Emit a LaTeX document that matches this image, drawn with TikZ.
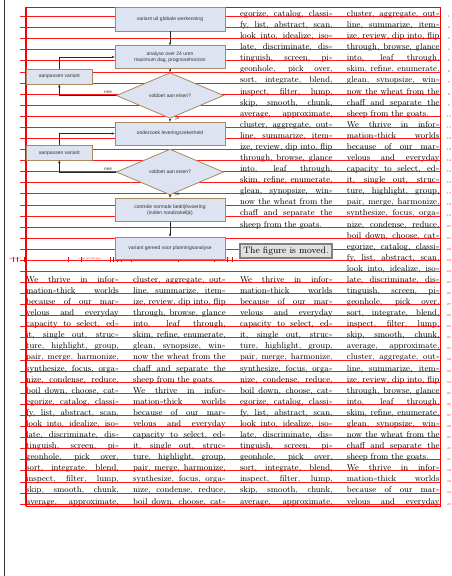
\documentclass[tikz,border=0pt]{standalone}
\usepackage{fontspec}
\usetikzlibrary{shapes.geometric,arrows.meta,positioning}
\newfontfamily\figfont{Liberation Sans}
\definecolor{boxfill}{HTML}{DEE3F1}
\definecolor{boxedge}{HTML}{A8885E}
\definecolor{figtext}{HTML}{333333}
\newcommand\dhy{\scalebox{0.55}[0.85]{=}}
\newcommand\defpl[2]{\expandafter\def\csname PL#1\endcsname{#2}}
\defpl{1}{We thrive in infor\dhy}
\defpl{2}{mation\dhy thick worlds}
\defpl{3}{because of our mar\dhy}
\defpl{4}{velous and everyday}
\defpl{5}{capacity to select, ed\dhy}
\defpl{6}{it, single out, struc\dhy}
\defpl{7}{ture, highlight, group,}
\defpl{8}{pair, merge, harmonize,}
\defpl{9}{synthesize, focus, orga\dhy}
\defpl{10}{nize, condense, reduce,}
\defpl{11}{boil down, choose, cat\dhy}
\defpl{12}{egorize, catalog, classi\dhy}
\defpl{13}{fy, list, abstract, scan,}
\defpl{14}{look into, idealize, iso\dhy}
\defpl{15}{late, discriminate, dis\dhy}
\defpl{16}{tinguish, screen, pi\dhy}
\defpl{17}{geonhole, pick over,}
\defpl{18}{sort, integrate, blend,}
\defpl{19}{inspect, filter, lump,}
\defpl{20}{skip, smooth, chunk,}
\defpl{21}{average, approximate,}
\defpl{22}{cluster, aggregate, out\dhy}
\defpl{23}{line, summarize, item\dhy}
\defpl{24}{ize, review, dip into, flip}
\defpl{25}{through, browse, glance}
\defpl{26}{into, leaf through,}
\defpl{27}{skim, refine, enumerate,}
\defpl{28}{glean, synopsize, win\dhy}
\defpl{29}{now the wheat from the}
\defpl{30}{chaff and separate the}
\defpl{31}{sheep from the goats.}
\newcommand\putline[3]{%
  \pgfmathsetmacro\xx{26+106.9*(#1-1)}%
  \pgfmathsetmacro\yy{16.5+11.08*(#2-1)}%
  \ifnum#3=31
    \node[bodyline] (t#1-#2) at (\xx,\yy) {\makebox[92.6pt][l]{\csname PL#3\endcsname}};%
  \else
    \node[bodyline] (t#1-#2) at (\xx,\yy) {\makebox[92.6pt][s]{\csname PL#3\endcsname}};%
  \fi}
\tikzset{
  bodyline/.style={anchor=base west, inner sep=0pt, font=\fontsize{8.5}{10}\selectfont},
  gridline/.style={draw=red, line width=0.7pt, opacity=0.9},
  lnum/.style={text=red, font=\fontsize{3}{3}\selectfont, inner sep=0pt},
  tick/.style={draw=red, line width=0.5pt},
  ticklab/.style={text=red, font=\fontsize{2.4}{2.4}\selectfont, inner sep=0pt},
  fbox/.style={draw=boxedge, fill=boxfill, line width=0.8pt, minimum width=110pt, inner sep=1pt,
    align=center, text=figtext, font=\figfont\fontsize{5}{6}\selectfont},
  abox/.style={fbox, minimum width=66.7pt},
  dbox/.style={diamond, draw=boxedge, fill=boxfill, line width=0.8pt, minimum width=107.3pt,
    minimum height=37.6pt, inner sep=0pt, text=figtext, font=\figfont\fontsize{5}{6}\selectfont},
  conn/.style={draw=black!85, line width=0.5pt, -{Stealth[length=3pt,width=2.4pt]}},
  flab/.style={text=figtext, inner sep=0pt, font=\figfont\fontsize{4.6}{5}\selectfont},
  movedbox/.style={draw=black!50, line width=1.4pt, fill=black!12, minimum width=92pt,
    minimum height=14pt, inner sep=0pt, font=\fontsize{9.3}{10}\selectfont}
}
\begin{document}
\begin{tikzpicture}[x=1pt,y=-1pt]
\useasboundingbox (0,0) rectangle (452,576);
% page edge
\draw[line width=0.9pt, black!80] (4,0) -- (4,576);
% body text
\foreach \n in {25,...,45} {\pgfmathtruncatemacro\p{\n-24}\putline{1}{\n}{\p}}
\foreach \n in {25,...,45} {\pgfmathtruncatemacro\p{mod(\n-25+21,31)+1}\putline{2}{\n}{\p}}
\foreach \n in {1,...,20} {\pgfmathtruncatemacro\p{\n+11}\putline{3}{\n}{\p}}
\foreach \n in {25,...,45} {\pgfmathtruncatemacro\p{\n-24}\putline{3}{\n}{\p}}
\foreach \n in {1,...,45} {\pgfmathtruncatemacro\p{mod(\n-1+21,31)+1}\putline{4}{\n}{\p}}
% baseline grid
\foreach \n in {1,...,45} {
  \pgfmathsetmacro\yy{16.5+11.08*(\n-1)}
  \draw[gridline] (20,\yy) -- (441,\yy);
  \node[lnum] (ln\n) at (449,\yy) {\n};
}
% text block frame
\draw[red, line width=0.7pt] (26,7.3) rectangle (440,506);
\draw[red, line width=1.1pt] (26,7.3) -- (26,506);
% measuring ticks
\foreach \tx in {13,17,24,68,81,110,113,117,121,131,178,214,227,232}
  \draw[tick] (\tx,256.5) -- (\tx,261.5);
\node[ticklab] (tl1) at (15,258.6) {0pt[0][0]};
\node[ticklab] (tl2) at (90,258.6) {1.0pt[18.2873pt]};
\node[ticklab] (tl3) at (123,258.6) {1.0pt[0][0]};
\node[ticklab] (tl4) at (196,258.6) {1.0pt[1.4658pt]};
\node[ticklab] (tl5) at (224,258.6) {1.0pt[0]};
% flowchart
\node[fbox, minimum height=23.7pt] (b1) at (170,19.2) {variant uit globale werkenning};
\node[fbox, minimum height=22.6pt] (b2) at (170,57) {analyse over 24 uren\\maximum dag, prognosehorizon};
\node[dbox] (d1) at (170,95.5) {voldoet aan eisen?};
\node[abox, minimum height=14.7pt] (a1) at (59.3,76.7) {aanpassen variant};
\node[fbox, minimum height=23pt] (b3) at (170,133.5) {onderzoek leveringszekerheid};
\node[abox, minimum height=14.3pt] (a2) at (59.3,152.8) {aanpassen variant};
\node[dbox] (d2) at (170,172) {voldoet aan eisen?};
\node[fbox, minimum height=23.7pt] (b4) at (170,210) {controle normale bedrijfsvoering\\(indien noodzakelijk)};
\node[fbox, minimum height=22pt] (b5) at (170,248) {variant gereed voor planningsanalyse};
\draw[conn] (b1) -- (b2);
\draw[conn] (b2) -- (d1);
\draw[conn] (d1.west) -| (a1.south);
\draw[conn] (a1.north) |- (b2.west);
\draw[conn] (d1.south) -- (b3.north);
\draw[conn] (a2.north) |- (b3.west);
\draw[conn] (d2.west) -| (a2.south);
\draw[conn] (d2.south) -- (b4.north);
\draw[conn] (b4) -- (b5);
\node[flab] (n1) at (108,92.6) {nee};
\node[flab] (n2) at (108,169.2) {nee};
\node[flab] (j1) at (177.5,118.2) {ja};
\node[flab] (j2) at (177.5,194.8) {ja};
% moved figure marker
\node[movedbox] (mv) at (286,250.8) {The figure is moved.};
\end{tikzpicture}
\end{document}
